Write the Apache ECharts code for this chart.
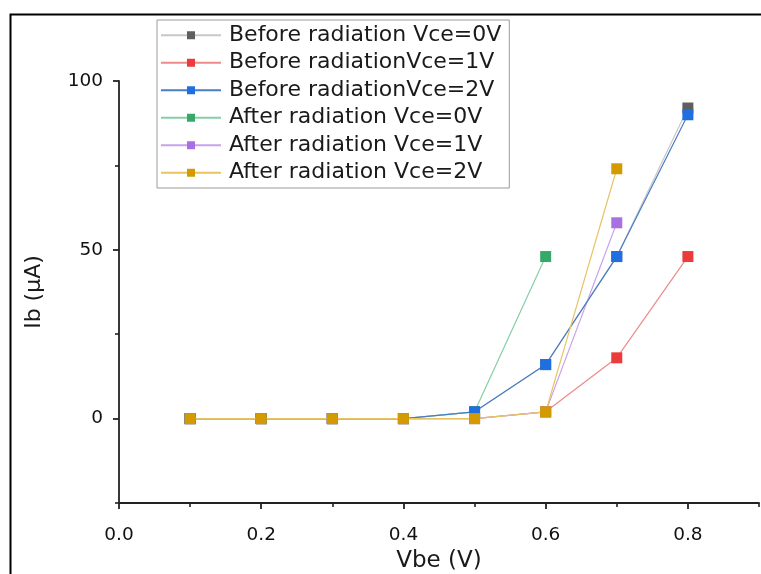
<!DOCTYPE html>
<html>
<head>
<meta charset="utf-8">
<script src="https://cdn.jsdelivr.net/npm/echarts@6/dist/echarts.min.js"></script>
<style>html,body{margin:0;padding:0;background:#fff}#c{width:761px;height:574px}</style>
</head>
<body>
<div id="c"></div>
<script>
var vbe = [0.1, 0.2, 0.3, 0.4, 0.5, 0.6, 0.7, 0.8];
var before0 = [0, 0, 0, 0, 2, 16, 48, 92];
var before1 = [0, 0, 0, 0, 0, 2, 18, 48];
var before2 = [0, 0, 0, 0, 2, 16, 48, 90];
var after0 = [0, 0, 0, 0, 2, 48];
var after1 = [0, 0, 0, 0, 0, 2, 58];
var after2 = [0, 0, 0, 0, 0, 2, 74];
var names = ['Before radiation Vce=0V', 'Before radiationVce=1V', 'Before radiationVce=2V',
             'After radiation Vce=0V', 'After radiation Vce=1V', 'After radiation Vce=2V'];
var xMajor = [0, 0.2, 0.4, 0.6, 0.8];
var xMinor = [0.1, 0.3, 0.5, 0.7, 0.9];
var yMajor = [0, 50, 100];
var yMinor = [-25, 25, 75];

var markerColors = ['#5f5f5f', '#ec3b3b', '#1f6fe0', '#36a868', '#a870e0', '#d39b00'];
var lineColors = ['#c8c8c8', '#ee8a88', '#4a7cc8', '#86cfa6', '#c9a2ee', '#e6c463'];
var zOrder = [2, 2, 3, 2, 2, 4];
var allData = [before0, before1, before2, after0, after1, after2];

function pairs(ys) { return ys.map(function (y, i) { return [vbe[i], y]; }); }

var font = 'DejaVu Sans';
var series = allData.map(function (d, i) {
  return {
    name: names[i], type: 'line', data: pairs(d),
    symbol: 'rect', symbolSize: 11, z: zOrder[i],
    itemStyle: { color: markerColors[i] },
    lineStyle: { color: lineColors[i], width: 1.2 },
    emphasis: { disabled: true },
    animation: false,
    xAxisIndex: 0, yAxisIndex: 0
  };
});

var chart = echarts.init(document.getElementById('c'));
chart.setOption({
  backgroundColor: '#fff',
  animation: false,
  textStyle: { fontFamily: font },
  graphic: [{
    type: 'rect', left: 8, top: 12, z: 100,
    shape: { width: 770, height: 580 },
    style: { fill: 'none', stroke: '#000', lineWidth: 2 }
  }],
  grid: { left: 119, right: 2, top: 81, bottom: 71, containLabel: false, outerBoundsMode: 'none' },
  legend: {
    left: 157, top: 20, orient: 'vertical',
    data: names.map(function (n, i) { return { name: n, itemStyle: { color: markerColors[i] } }; }),
    itemWidth: 60, itemHeight: 10, itemGap: 5,
    padding: [4, 8, 4, 3],
    borderColor: '#9a9a9a', borderWidth: 1, borderRadius: 0,
    textStyle: { fontFamily: font, fontSize: 22, color: '#1a1a1a', padding: [0, 0, 0, 3], lineHeight: 22.5 },
    selectedMode: false
  },
  xAxis: [{
    type: 'value', min: 0, max: 0.9,
    name: 'Vbe (V)', nameLocation: 'middle', nameGap: 44,
    nameTextStyle: { fontFamily: font, fontSize: 23, color: '#1a1a1a' },
    axisLine: { show: true, onZero: false, lineStyle: { color: '#222', width: 1.8 } },
    axisTick: { show: true, inside: false, length: 6, customValues: xMajor, lineStyle: { color: '#222', width: 1.8 } },
    axisLabel: { customValues: xMajor, margin: 23, fontFamily: font, fontSize: 18.5, color: '#111',
      formatter: function (v) { return v.toFixed(1); } },
    splitLine: { show: false }
  }, {
    type: 'value', min: 0, max: 0.9, position: 'bottom',
    axisLine: { show: false, onZero: false },
    axisTick: { show: true, length: 4, customValues: xMinor, lineStyle: { color: '#222', width: 1.6 } },
    axisLabel: { show: false },
    splitLine: { show: false }
  }],
  yAxis: [{
    type: 'value', min: -25, max: 100,
    name: 'Ib (µA)', nameLocation: 'middle', nameGap: 74, nameRotate: 90,
    nameTextStyle: { fontFamily: font, fontSize: 22, color: '#1a1a1a' },
    axisLine: { show: true, onZero: false, lineStyle: { color: '#222', width: 1.8 } },
    axisTick: { show: true, length: 6, customValues: yMajor, lineStyle: { color: '#222', width: 1.8 } },
    axisLabel: { customValues: yMajor, margin: 16, fontFamily: font, fontSize: 18.5, color: '#111' },
    splitLine: { show: false }
  }, {
    type: 'value', min: -25, max: 100, position: 'left',
    axisLine: { show: false, onZero: false },
    axisTick: { show: true, length: 4, customValues: yMinor, lineStyle: { color: '#222', width: 1.6 } },
    axisLabel: { show: false },
    splitLine: { show: false }
  }],
  series: series
});
</script>
</body>
</html>
